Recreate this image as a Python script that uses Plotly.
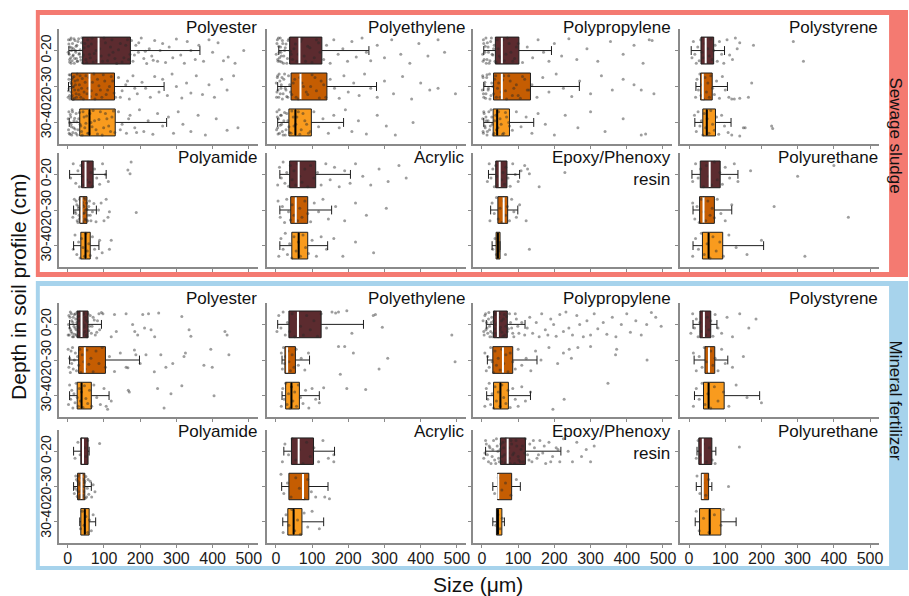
import plotly.graph_objects as go

# ---------------- data ----------------
DEPTHS = ["0-20", "20-30", "30-40"]
POLYMERS = ["Polyester", "Polyethylene", "Polypropylene", "Polystyrene",
            "Polyamide", "Acrylic", "Epoxy/Phenoxy<br>resin", "Polyurethane"]
GROUPS = ["Sewage sludge", "Mineral fertilizer"]
X_TICKS = [0, 100, 200, 300, 400, 500]

# box statistics, [polymer][depth]  (size in µm)
SS_LOWER = [[3, 2, 4], [8, 5, 5], [5, 5, 5], [6, 19, 16], [5, 16, 16], [11, 11, 11], [18, 24, 28], [8, 11, 11]]
SS_Q1 = [[41, 10, 33], [38, 42, 36], [37, 32, 31], [33, 32, 38], [38, 33, 36], [38, 41, 44], [38, 44, 39], [31, 29, 37]]
SS_MED = [[85, 60, 60], [65, 68, 54], [55, 55, 42], [46, 38, 49], [49, 38, 49], [63, 55, 63], [49, 60, 44], [57, 40, 54]]
SS_Q3 = [[173, 129, 131], [127, 141, 98], [102, 134, 76], [68, 64, 73], [70, 53, 62], [110, 88, 88], [69, 71, 50], [86, 70, 93]]
SS_UPPER = [[365, 266, 273], [257, 278, 187], [192, 269, 143], [98, 106, 116], [106, 79, 86], [206, 154, 143], [104, 99, 50], [135, 118, 206]]

MF_LOWER = [[5, 5, 5], [5, 17, 17], [12, 15, 13], [11, 14, 15], [16, 16, 33], [22, 16, 19], [10, 30, 30], [22, 20, 17]]
MF_Q1 = [[26, 30, 26], [36, 25, 27], [32, 30, 32], [30, 44, 40], [36, 27, 36], [43, 36, 33], [51, 43, 40], [27, 34, 29]]
MF_MED = [[38, 47, 38], [61, 31, 43], [44, 58, 51], [41, 55, 54], [42, 38, 47], [63, 75, 49], [71, 45, 44], [38, 38, 57]]
MF_Q3 = [[56, 104, 65], [125, 54, 65], [70, 85, 73], [60, 71, 97], [56, 47, 59], [104, 91, 72], [120, 82, 55], [63, 54, 88]]
MF_UPPER = [[93, 198, 114], [242, 93, 120], [119, 152, 134], [77, 107, 195], [59, 65, 77], [162, 144, 132], [218, 106, 62], [74, 63, 130]]

# individual particles: (size, vertical offset within the depth band)
SS_PTS_POLYESTER = [
    [(2,-.3),(4,.1),(5,.32),(6,-.1),(8,.2),(9,-.35),(10,0),(12,.28),(13,-.2),(15,.12),(16,-.05),(18,.35),(20,-.28),(22,.05),(24,.22),(25,-.15),(27,.3),(30,-.33),(32,.08),(35,.18),(38,-.22),(40,.34),(45,-.08),(50,.25),(55,-.3),(60,.1),(65,-.18),(70,.32),(78,0),(85,-.25),(92,.15),(100,-.35),(110,.28),(118,-.1),(125,.05),(135,.36),(145,-.2),(155,.2),(165,-.3),(172,.1),
     (1,.05),(3,-.18),(5,.25),(7,-.3),(9,.35),(11,-.08),(14,.15),(17,-.33),(19,.22),(21,0),(23,-.12),(26,.3),(28,-.25),(31,.1),(34,-.02),(36,.26),(39,-.36),(43,.12),(47,-.2),(52,.33),(57,-.12),(62,.2),(67,-.34),(73,.08),(80,.28),(88,-.05),(96,.3),(104,-.22),(114,.12),(122,-.3),(130,.22),(140,-.02),(150,.32),(160,-.15),(168,.25),(176,-.28),(184,.12),(196,-.22),(214,.02),(236,.27),
     (180,.3),(188,-.15),(195,.05),(203,-.35),(210,.22),(218,.36),(225,-.05),(232,.15),(240,-.28),(248,.3),(255,0),(262,-.2),(270,.33),(280,-.1),(290,.2),(300,-.32),(312,.12),(322,.35),(330,-.25),(340,0),(352,.25),(362,-.15),
     (375,.3),(390,-.3),(400,.05),(415,-.22),(430,.28),(443,.18),(462,.35),(486,0)],
    [(1,.3),(3,-.2),(4,.05),(6,.35),(7,-.32),(9,.15),(10,-.08),(12,.25),(14,-.25),(16,0),(18,.33),(20,-.15),(23,.2),(26,-.35),(29,.1),(32,-.05),(36,.3),(40,-.22),(45,.15),(50,-.3),(56,.05),(62,.28),(68,-.12),(75,.35),(82,-.2),(90,.1),(98,-.33),(106,.22),(115,0),(124,-.15),(132,.3),
     (2,.12),(4,-.33),(5,.25),(8,-.12),(10,.3),(11,-.2),(13,.02),(15,.36),(17,-.28),(19,.1),(21,-.05),(24,.3),(27,-.18),(31,.22),(34,-.3),(38,.05),(43,.35),(48,-.12),(53,.2),(59,-.25),(65,.12),(72,-.35),(79,.22),(86,-.02),(94,.3),(102,-.15),(110,.1),(120,-.28),(128,.18),(145,.3),(165,-.15),(185,.05),
     (140,-.25),(150,.12),(160,-.05),(170,.35),(180,-.3),(192,.2),(205,-.12),(215,.05),(228,.3),(240,-.28),(252,.15),(262,-.2),(275,.25),(288,-.35),(300,0),(315,.32),(328,-.1),(340,.18),
     (355,-.3),(372,.22),(390,-.05),(405,.3),(425,-.2),(440,.1),(458,-.3)],
    [(2,.2),(3,-.3),(5,0),(6,.33),(8,-.15),(10,.12),(12,-.35),(14,.28),(17,-.05),(20,.18),(23,-.25),(26,.35),(30,-.1),(34,.05),(38,.25),(42,-.3),(47,.15),(52,-.18),(58,.3),(64,0),(70,-.33),(78,.2),(86,-.08),(95,.35),(104,-.25),(113,.1),(122,-.15),(130,.28),
     (1,-.1),(4,.3),(7,-.22),(9,.05),(11,.35),(13,-.3),(16,.15),(19,-.12),(22,.3),(25,-.02),(28,.2),(32,-.28),(36,.1),(40,.35),(45,-.15),(50,.02),(55,.3),(61,-.25),(67,.12),(74,-.05),(82,.32),(90,-.3),(99,.15),(108,-.1),(118,.25),(126,-.32),(145,.2),(168,-.1),(190,.28),
     (140,-.3),(150,.05),(162,.3),(172,-.2),(185,.15),(198,-.35),(210,.25),(222,-.05),(235,.33),(248,-.25),(262,.1),(278,-.15),(292,.3),(305,-.3),(318,.05),
     (340,.25),(360,-.2),(380,.35),(410,-.1),(440,.22),(470,.15)],
]
SS_PTS_POLYETHYLENE = [
    [(3,-.2),(5,.25),(7,-.35),(9,.05),(11,.3),(13,-.1),(15,.15),(18,-.28),(21,.35),(24,0),(28,-.18),(32,.22),(36,-.32),(42,.1),(50,-.05),(58,.3),(68,-.25),(78,.15),(88,-.12),(100,.33),(112,-.3),(122,.05),
     (1,.1),(4,-.3),(6,.3),(8,-.12),(10,.2),(12,-.35),(14,.05),(16,.32),(19,-.2),(22,.15),(26,-.08),(30,.35),(34,-.28),(40,.02),(46,.25),(54,-.18),(62,.1),(72,-.32),(82,.3),(94,-.08),(106,.2),(118,-.22),
     (132,.25),(140,-.15),(150,.35),(160,-.3),(172,.1),(185,-.05),(198,.3),(210,-.25),(222,.18),(238,-.35),(250,.05),(262,.28),(280,-.15),(300,.2),(320,-.3),(345,.1),(370,.35),(395,-.2),(420,.15),(448,-.3),(466,.05)],
    [(2,.3),(4,-.25),(6,.1),(9,-.35),(12,.2),(15,-.05),(18,.35),(22,-.2),(26,.05),(30,.28),(35,-.3),(40,.15),(48,-.1),(56,.3),(66,-.25),(76,0),(88,.22),(100,-.33),(112,.12),(125,-.15),(138,.3),
     (1,-.1),(3,.15),(5,-.3),(8,.3),(11,-.15),(14,.05),(17,-.25),(20,.2),(24,-.35),(28,.1),(33,.3),(38,-.05),(44,.22),(52,-.2),(62,.35),(72,-.1),(84,.15),(96,0),(108,-.25),(120,.32),(132,-.05),
     (150,-.2),(162,.05),(175,.33),(188,-.3),(200,.15),(215,-.1),(230,.25),(245,-.35),(262,.05),(280,.3),(300,-.15),(325,.2),(350,-.28),(375,.35),(400,-.1),(425,.1),(448,.05),(496,.2)],
    [(3,-.3),(5,.15),(7,-.1),(10,.3),(13,-.2),(16,.05),(20,.35),(24,-.28),(28,.2),(33,-.05),(38,.28),(44,-.32),(50,.1),(58,-.15),(66,.33),(75,-.25),(85,.05),(95,.25),(105,-.3),(118,.12),(130,-.1),(145,.3),(160,-.2),(175,.15),(192,-.35),(210,.25),(228,-.05),(250,.32),(280,-.2),(305,.1),(330,.35),(379,0),
     (2,.2),(4,-.15),(6,.32),(9,-.35),(12,.08),(15,-.2),(18,.25),(22,-.05),(26,.35),(30,-.25),(36,.12),(42,.3),(48,-.15),(55,.05),(62,-.3),(70,.2),(80,-.05),(90,.3)],
]
SS_PTS_POLYPROPYLENE = [
    [(3,.3),(5,-.2),(8,.05),(11,-.35),(14,.25),(17,-.1),(20,.35),(24,-.25),(28,.1),(32,-.05),(36,.3),(42,-.3),(48,.15),(55,-.15),(62,.28),(70,-.35),(80,.05),(90,.22),(100,-.2),(112,.33),(125,-.1),(140,.2),(155,-.3),(170,.05),(185,.3),(200,-.2),(220,.15),(240,-.33),(262,.25),(290,-.05),(320,.3),(355,-.25),(390,.1),(420,-.15),(445,.35),(462,-.3),(470,-.28),
     (2,.1),(4,-.3),(6,.25),(9,-.12),(12,.35),(15,-.22),(18,.05),(22,.28),(26,-.35),(30,.12),(34,-.15),(39,.33),(45,-.05),(52,.2),(58,-.3),(66,.1),(75,-.2),(85,.3),(95,-.1)],
    [(2,-.3),(4,.2),(7,-.05),(10,.33),(13,-.25),(17,.1),(21,-.35),(25,.25),(30,0),(35,-.2),(40,.3),(46,-.1),(53,.15),(60,-.3),(68,.35),(78,-.15),(88,.05),(100,.25),(112,-.28),(125,.1),(138,-.05),(152,.3),(168,-.25),(185,.15),(205,-.35),(225,.05),(248,.28),(270,-.15),(300,.2),(330,-.3),(360,.1),(390,-.2),(420,-.05),(440,.1),(475,.2),
     (1,.1),(3,-.25),(5,.3),(8,-.12),(11,.2),(14,-.33),(18,.05),(22,.35),(27,-.1),(32,.2),(38,-.3),(43,.05),(50,.3),(57,-.18),(65,.12),(74,-.3),(84,.25),(95,-.05),(106,.33),(118,-.2),(130,.1)],
    [(3,.25),(5,-.3),(8,.1),(11,-.15),(14,.35),(17,-.05),(21,.2),(25,-.35),(29,.05),(33,.3),(38,-.2),(44,.15),(50,-.1),(57,.33),(65,-.28),(74,0),(84,.22),(95,-.3),(108,.12),(122,-.15),(138,.3),(155,-.25),(175,.05),(200,.35),(230,-.2),(265,.15),(300,-.3),(340,.25),(390,-.1),(440,.35),(452,.32),
     (2,-.1),(4,.3),(6,-.25),(9,.15),(12,-.05),(15,.25),(19,-.3),(23,.1),(27,-.15),(31,.35),(35,-.05),(40,.2),(46,-.3),(53,.05),(60,.3),(68,-.15),(76,.1)],
]
SS_PTS_POLYSTYRENE = [
    [(8,.2),(12,-.25),(16,.1),(20,.35),(24,-.1),(28,.28),(32,-.3),(36,.05),(40,.2),(44,-.2),(48,.33),(52,-.05),(56,.15),(60,-.32),(64,.25),(68,0),(72,-.15),(78,.3),(84,-.25),(90,.1),(96,.35),(105,-.3),(112,.12),(120,.25),(128,-.35),(133,-.05),(140,-.22),(178,-.15),(288,-.25),(316,.3)],
    [(18,.3),(22,-.2),(26,.1),(30,-.35),(33,.25),(36,-.05),(40,.35),(44,-.25),(48,.15),(52,-.1),(56,.3),(60,-.3),(65,.05),(70,.22),(76,-.15),(84,.33),(92,-.28),(100,.1),(110,.3),(118,.35),(125,.35),(140,.33),(164,.3),(173,-.1)],
    [(15,-.2),(20,.25),(25,-.3),(30,.1),(34,-.05),(38,.35),(42,-.25),(46,.15),(50,-.1),(55,.3),(60,-.33),(65,.05),(70,.22),(76,-.15),(82,.33),(90,-.2),(98,.1),(108,.28),(118,.35),(140,.38),(150,.15),(155,.15),(228,.1),(231,.17)],
]
SS_PTS_POLYAMIDE = [
    [(8,.1),(15,-.3),(22,.25),(28,-.1),(32,.35),(36,-.25),(40,.05),(44,.3),(48,-.2),(52,.15),(56,-.35),(60,.22),(64,-.05),(68,.33),(74,-.15),(80,.1),(88,.28),(96,-.3),(104,0),(112,.2),(166,-.12),(172,-.02),(175,-.35),(367,-.33)],
    [(14,.2),(18,-.3),(22,.1),(25,-.15),(28,.35),(30,-.05),(32,.25),(34,-.35),(36,0),(38,.18),(40,-.22),(42,.32),(44,-.1),(46,.08),(48,-.3),(50,.28),(53,-.02),(56,.15),(60,-.25),(64,.3),(68,.05),(72,-.18),(78,.33),(85,0),(92,-.2),(100,.3),(106,-.3),(111,.2),(115,.05),(189,.07),
     (20,.05),(23,-.25),(26,.3),(29,-.1),(31,.15),(33,-.3),(35,.2),(37,-.05),(39,.35),(41,-.15),(43,.1),(45,-.35),(47,.25),(49,0),(52,-.2),(55,.3),(58,-.1),(62,.15)],
    [(15,.1),(20,-.3),(25,.25),(30,-.1),(34,.35),(38,-.2),(42,.05),(46,.3),(50,-.35),(54,.15),(58,-.05),(62,.28),(68,-.25),(74,.1),(80,.35),(88,-.15),(95,.2),(115,.1),(120,-.15)],
]
SS_PTS_ACRYLIC = [
    [(5,.3),(10,-.2),(15,.1),(20,-.35),(25,.25),(30,-.05),(35,.33),(40,-.25),(45,.15),(50,-.1),(55,.3),(60,-.3),(66,.05),(72,.22),(80,-.15),(88,.35),(96,-.25),(105,.1),(115,-.05),(125,.3),(138,-.3),(150,.15),(162,-.2),(175,.35),(190,-.1),(205,.25),(220,-.3),(240,.05),(262,.3),(285,-.15),(310,.2),(340,-.25),(360,.1)],
    [(6,-.25),(12,.2),(18,-.1),(24,.35),(30,-.3),(35,.05),(40,.28),(45,-.15),(50,.15),(55,-.35),(60,.3),(66,-.05),(72,.2),(80,-.25),(88,.1),(96,.33),(106,-.2),(118,.05),(130,-.3),(145,.25),(165,-.1),(190,.3),(220,-.2),(250,.15),(305,-.05)],
    [(8,.3),(14,-.2),(20,.1),(26,-.35),(32,.25),(38,-.05),(44,.35),(50,-.25),(56,.15),(62,-.1),(68,.3),(75,-.3),(82,.05),(90,.22),(100,-.15),(112,.3),(125,-.25),(140,.1),(160,-.2),(185,.3),(220,-.1),(270,.2)],
]
SS_PTS_EPOXY = [
    [(15,.2),(20,-.3),(25,.1),(30,-.15),(34,.35),(38,-.25),(42,.05),(46,.3),(50,-.35),(54,.15),(58,-.05),(62,.28),(66,-.2),(72,.1),(78,.33),(85,-.3),(92,0),(100,.2),(108,-.1),(118,-.25),(126,-.15),(131,-.02),(158,.35),(229,-.05)],
    [(22,.3),(28,-.2),(34,.1),(40,-.35),(45,.25),(50,-.05),(55,.35),(60,-.25),(65,.15),(70,-.1),(76,.3),(82,-.3),(88,.05),(95,.2),(104,-.15),(122,.3)],
    [(30,.1),(36,-.2),(40,.25),(44,-.1),(47,.15),(65,.25),(131,.1)],
]
SS_PTS_POLYURETHANE = [
    [(10,.2),(18,-.3),(25,.1),(32,-.15),(40,.35),(48,-.25),(55,.05),(62,.3),(70,-.35),(78,.15),(85,-.05),(92,.28),(100,-.2),(112,.1),(125,-.3),(135,.2),(170,-.1),(300,.05),(400,-.25)],
    [(10,-.2),(16,.25),(22,-.1),(28,.35),(34,-.3),(40,.05),(46,.3),(52,-.25),(58,.15),(64,-.05),(70,.22),(78,-.3),(88,.1),(100,.3),(118,-.15),(235,-.1),(440,.2)],
    [(10,.3),(18,-.2),(26,.1),(34,-.35),(42,.25),(50,-.05),(58,.35),(66,-.25),(75,.15),(85,-.1),(95,.3),(110,-.3),(130,.05),(160,.25),(200,-.15),(320,.3)],
]

MF_PTS_POLYESTER = [
    [(1,.3),(3,-.25),(5,.1),(7,-.35),(9,.2),(11,-.1),(13,.35),(15,-.2),(17,.05),(19,.28),(21,-.3),(23,.15),(25,-.05),(27,.33),(29,-.22),(31,.1),(33,-.35),(35,.25),(37,0),(39,-.15),(41,.3),(43,-.28),(45,.08),(47,.2),(50,-.12),(53,.35),(56,-.3),(60,.05),(65,.25),(70,-.2),(76,.3),(82,-.1),(88,.15),(93,-.33),
     (2,0),(4,.3),(6,-.2),(8,.15),(10,-.3),(12,.25),(14,-.05),(16,.35),(18,-.28),(20,.1),(22,-.15),(24,.3),(26,-.35),(28,.05),(30,.2),(32,-.1),(34,.33),(36,-.25),(38,.15),(40,-.05),(42,.25),(44,-.32),(46,.02),(48,-.2),(51,.3),(54,-.08),(58,.18),(62,-.25),(67,.05),(73,-.12),(80,.22),(86,-.3),
     (97,-.3),(120,.35),(129,-.28),(134,.2),(161,-.3),(179,0),(185,.2),(193,.3),(207,-.28),(212,.1),(223,-.3),(230,.15),(240,.35),(251,-.32),(315,-.22),(335,.15),(340,.33),(434,.2),(440,.3)],
    [(1,-.3),(3,.2),(5,-.05),(7,.35),(9,-.25),(11,.1),(13,-.35),(15,.25),(18,0),(21,-.2),(24,.3),(27,-.1),(30,.15),(33,-.3),(36,.35),(40,-.15),(44,.05),(48,.25),(53,-.28),(58,.12),(64,-.05),(70,.33),(78,-.25),(86,.1),(95,-.35),(104,.2),(115,-.1),(129,.32),(145,-.2),(161,.2),(166,.22),(184,-.28),(188,-.15),(200,.1),(216,-.15),(239,.33),(257,-.15),(271,.2),(290,.1),(321,-.1),(325,-.2),(376,.15),(395,-.3),(399,.2),(445,-.15)],
    [(2,.25),(5,-.3),(8,.1),(11,-.15),(14,.35),(17,-.05),(20,.2),(23,-.35),(26,.05),(29,.3),(32,-.2),(35,.15),(38,-.1),(42,.33),(46,-.28),(50,.08),(55,.22),(60,-.15),(66,.3),(72,-.3),(80,.05),(90,.25),(100,-.2),(106,.3),(110,.38),(120,.15),(167,-.15),(170,-.1),(248,-.2),(266,.35),(285,-.05),(315,-.28),(404,0)],
]
MF_PTS_POLYETHYLENE = [
    [(3,.2),(8,-.25),(14,.1),(20,-.35),(26,.3),(32,-.05),(38,.2),(45,-.3),(52,.35),(60,-.15),(68,.05),(76,.3),(85,-.25),(95,.15),(105,-.1),(115,.33),(125,-.3),(140,.1),(155,-.35),(165,-.32),(173,-.35),(196,-.38),(210,.25),(269,-.25),(275,-.28),(294,.08),(486,.3)],
    [(15,-.2),(18,.25),(21,-.35),(24,.1),(27,-.1),(30,.35),(33,-.25),(36,.05),(40,.3),(45,-.15),(50,.2),(56,-.3),(62,.15),(70,-.05),(80,.28),(90,-.2),(173,-.38),(190,-.38),(214,-.2),(285,.25),(178,.4),(309,-.05),(495,.05)],
    [(15,.3),(19,-.2),(23,.1),(27,-.35),(31,.25),(35,-.05),(39,.35),(43,-.25),(47,.15),(52,-.1),(57,.3),(62,-.3),(68,.05),(75,.22),(82,-.15),(91,.35),(100,-.2),(110,.1),(120,.2),(132,-.22),(196,-.2),(248,-.17)],
]
MF_PTS_POLYPROPYLENE = [
    [(5,.2),(10,-.3),(14,.1),(18,-.15),(22,.35),(26,-.05),(30,.25),(34,-.35),(38,0),(42,.3),(46,-.2),(50,.15),(54,-.1),(58,.33),(62,-.28),(66,.05),(70,.2),(76,-.3),(82,.1),(88,.35),(95,-.15),(102,.25),(110,-.05),(118,.3),
     (3,-.1),(6,.3),(8,-.25),(11,.15),(13,-.05),(16,.25),(19,-.33),(21,.05),(24,.2),(27,-.2),(29,.35),(32,-.1),(35,.12),(37,-.28),(40,.25),(43,-.05),(45,.35),(48,-.3),(51,.08),(55,.22),(59,-.15),(63,.3),(68,-.22),(73,.12),(79,-.05),(85,.25),(92,-.3),(99,.05),
     (125,.1),(132,-.2),(140,.25),(150,-.05),(158,.35),(165,-.3),(175,.15),(182,.3),(190,-.15),(198,0),(205,.33),(215,-.28),(225,.2),(232,-.35),(240,.1),(250,.3),(262,-.25),(270,0),(280,.35),(290,-.1),(300,.3),(310,-.3),(320,.12),(335,-.05),(345,.28),(360,-.2),(370,.35),(385,0),(400,-.3),(410,.22),(425,-.1),(440,.3),(455,0),(468,-.33),(480,-.2),(495,.05)],
    [(8,-.2),(12,.3),(16,-.1),(20,.2),(24,-.35),(28,.05),(32,.35),(36,-.25),(40,.15),(45,-.05),(50,.28),(55,-.3),(60,.1),(66,-.15),(72,.33),(78,-.2),(85,.05),(92,.25),(100,-.3),(110,.15),(122,-.05),(135,.3),(148,-.25),(163,0),(185,-.35),(209,.1),(225,-.2),(241,-.3),(247,-.05),(265,-.35),(300,-.38),(369,-.15),(372,-.3),(456,0)],
    [(8,.3),(12,-.2),(16,.1),(20,-.35),(24,.25),(28,-.05),(32,.35),(36,-.25),(40,.15),(45,-.1),(50,.3),(55,-.3),(60,.05),(66,.22),(72,-.15),(78,.33),(85,-.2),(92,.1),(100,.3),(110,-.25),(120,.15),(134,-.1),(196,.38),(227,.1),(348,-.35)],
]
MF_PTS_POLYSTYRENE = [
    [(5,.25),(10,-.3),(15,.1),(20,-.15),(25,.35),(30,-.05),(34,.2),(38,-.35),(42,.05),(46,.3),(50,-.2),(55,.15),(60,-.1),(66,.33),(72,-.28),(80,.1),(90,.25),(105,-.2),(120,.35),(140,-.3),(165,.1),(185,-.15)],
    [(12,-.2),(20,.3),(28,-.1),(36,.2),(42,-.35),(48,.05),(54,.35),(60,-.25),(66,.15),(72,-.05),(80,.3),(90,-.3),(100,.1),(120,.2),(150,-.1)],
    [(12,.3),(20,-.2),(28,.1),(36,-.35),(44,.25),(52,-.05),(60,.35),(70,-.25),(80,.15),(95,-.1),(110,.3),(130,-.3),(160,.05),(200,.2)],
]
MF_PTS_POLYAMIDE = [
    [(20,.2),(28,-.25),(34,.1),(38,-.35),(42,.3),(46,-.1),(50,.15),(55,-.3),(88,-.22)],
    [(18,.2),(22,-.3),(25,.1),(28,-.15),(30,.35),(32,-.05),(34,.25),(36,-.35),(38,0),(40,.3),(42,-.2),(44,.15),(46,-.1),(48,.33),(50,-.28),(54,.05),(58,.22),(62,-.15),(66,.3),(70,-.05),(75,.15),
     (20,.05),(24,-.2),(26,.28),(29,-.3),(31,.15),(33,-.1),(35,.3),(37,-.25),(39,.1),(41,-.35),(43,.25),(45,0),(47,-.15),(52,.3),(56,-.2)],
    [(35,.2),(40,-.3),(45,.1),(50,-.15),(55,.3),(60,-.05),(65,.25),(70,-.2)],
]
MF_PTS_ACRYLIC = [
    [(18,.3),(25,-.2),(35,.1),(45,-.35),(55,.25),(65,-.05),(75,.35),(85,-.25),(95,.15),(105,-.1),(118,.3),(130,-.3),(145,.2),(160,.1),(160,.3)],
    [(14,-.35),(22,.2),(32,-.1),(42,.3),(55,-.25),(65,.05),(78,.35),(88,-.2),(98,.15),(110,.3),(135,.3),(148,.35)],
    [(20,.3),(28,-.2),(36,.1),(44,-.35),(52,.25),(60,-.05),(68,.35),(78,-.25),(88,.15),(100,-.3),(120,.2)],
]
MF_PTS_EPOXY = [
    [(5,.2),(10,-.3),(15,.1),(20,-.15),(25,.35),(30,-.05),(35,.25),(40,-.35),(44,0),(48,.3),(52,-.2),(56,.15),(60,-.1),(64,.33),(68,-.28),(72,.05),(76,.2),(80,-.3),(85,.1),(90,.35),(96,-.15),(102,.25),(108,-.05),(114,.3),(120,-.35),(126,.1),(132,-.2),(138,.3),(145,-.1),(152,.2),(160,-.3),(168,.05),(176,.35),(185,-.25),(195,.15),(205,-.1),(215,.3),(225,-.35),(238,0),(250,.3),(262,-.25),(275,.15),(288,-.05),(300,.3),(310,-.15),
     (8,.05),(12,-.2),(18,.3),(22,-.1),(28,.15),(32,-.3),(38,.35),(42,-.15),(46,.2),(50,-.05),(54,.3),(58,-.25),(62,.1),(66,-.35),(70,.25),(74,-.1),(78,.35),(82,-.2),(88,.05),(94,-.3),(100,.15),(106,.3),(112,-.15),(118,.05),(130,.25),(142,-.3),(156,.1),(172,-.15),(190,.3),(210,-.05)],
    [(35,.2),(45,-.25),(55,.1),(65,-.1),(80,.25),(95,-.2)],
    [(38,.1),(44,-.2),(50,.2),(56,-.1)],
]
MF_PTS_POLYURETHANE = [
    [(20,.2),(25,-.3),(32,.1),(40,-.2),(48,.3),(56,-.1),(64,.25),(72,.35),(139,-.12)],
    [(22,-.3),(30,.2),(38,-.1),(46,.25),(54,-.2),(109,0)],
    [(20,-.3),(28,.25),(40,-.1),(55,.3),(70,-.2),(88,.1),(95,-.35)],
]

SS_POINTS = [SS_PTS_POLYESTER, SS_PTS_POLYETHYLENE, SS_PTS_POLYPROPYLENE, SS_PTS_POLYSTYRENE,
             SS_PTS_POLYAMIDE, SS_PTS_ACRYLIC, SS_PTS_EPOXY, SS_PTS_POLYURETHANE]
MF_POINTS = [MF_PTS_POLYESTER, MF_PTS_POLYETHYLENE, MF_PTS_POLYPROPYLENE, MF_PTS_POLYSTYRENE,
             MF_PTS_POLYAMIDE, MF_PTS_ACRYLIC, MF_PTS_EPOXY, MF_PTS_POLYURETHANE]

# ---------------- style / layout ----------------
W, H = 909, 596
DEPTH_COLORS = ["#5C2B2F", "#C55D02", "#F99B1E"]
MEDIAN_COLORS = ["white", "white", "black"]
BOX_W = 0.75
FONT = "Liberation Sans, Arial, sans-serif"
AXIS_COL = "#8a8a8a"
COL_LEFT = [59, 268, 475, 683]
COL_WIDTH = 200
ROW_TOP = [29, 153, 303, 430]
ROW_BOTTOM = [144, 267, 417, 543]
TITLE_OFFSET = [-2, 4, -5, 1]
RED = "#F47A71"
BLUE = "#A7D3EC"


def px_x(v):
    return v / W


def px_y(v):
    return 1 - v / H


stats = {
    0: (SS_LOWER, SS_Q1, SS_MED, SS_Q3, SS_UPPER, SS_POINTS),
    1: (MF_LOWER, MF_Q1, MF_MED, MF_Q3, MF_UPPER, MF_POINTS),
}

fig = go.Figure()
layout_axes = {}
annotations = []

for g in range(2):
    lo, q1, med, q3, up, pts = stats[g]
    for p in range(8):
        row = g * 2 + p // 4
        col = p % 4
        k = g * 8 + p + 1
        xa = "x" if k == 1 else f"x{k}"
        ya = "y" if k == 1 else f"y{k}"
        for d in range(3):
            fig.add_trace(go.Box(
                y=[d], q1=[q1[p][d]], median=[med[p][d]], q3=[q3[p][d]],
                lowerfence=[lo[p][d]], upperfence=[up[p][d]],
                orientation="h", width=BOX_W, whiskerwidth=0.33,
                fillcolor=DEPTH_COLORS[d], line=dict(color="#1e1e1e", width=1),
                boxpoints=False, xaxis=xa, yaxis=ya, showlegend=False, hoverinfo="skip"))
            px_ = [pt[0] for pt in pts[p][d]]
            py_ = [d + pt[1] for pt in pts[p][d]]
            fig.add_trace(go.Scatter(
                x=px_, y=py_, mode="markers",
                marker=dict(size=3, color="rgba(40,40,40,0.45)", line=dict(width=0)),
                xaxis=xa, yaxis=ya, showlegend=False, hoverinfo="skip"))
            fig.add_trace(go.Scatter(
                x=[med[p][d], med[p][d]], y=[d - BOX_W / 2 + 0.02, d + BOX_W / 2 - 0.02],
                mode="lines", line=dict(color=MEDIAN_COLORS[d], width=2),
                xaxis=xa, yaxis=ya, showlegend=False, hoverinfo="skip"))

        left = COL_LEFT[col]
        right = left + COL_WIDTH
        key_x = "xaxis" if k == 1 else f"xaxis{k}"
        key_y = "yaxis" if k == 1 else f"yaxis{k}"
        layout_axes[key_x] = dict(
            domain=[px_x(left), px_x(right)], anchor=ya, range=[-25, 525],
            tickvals=X_TICKS, showticklabels=(row == 3), ticklabelstandoff=-3,
            tickfont=dict(size=16, color="#1a1a1a", family=FONT),
            ticks="outside", ticklen=3, tickcolor=AXIS_COL, tickwidth=1,
            showline=True, linecolor=AXIS_COL, linewidth=1.5,
            showgrid=False, zeroline=False, fixedrange=True)
        layout_axes[key_y] = dict(
            domain=[px_y(ROW_BOTTOM[row]), px_y(ROW_TOP[row])], anchor=xa,
            range=[2.6, -0.6], tickvals=[0, 1, 2], ticktext=DEPTHS,
            showticklabels=(col == 0), tickangle=-90, ticklabelstandoff=-3,
            tickfont=dict(size=14, color="#1a1a1a", family=FONT),
            ticks="outside", ticklen=3, tickcolor=AXIS_COL, tickwidth=1,
            showline=True, linecolor=AXIS_COL, linewidth=1.5,
            showgrid=False, zeroline=False, fixedrange=True)
        annotations.append(dict(
            text=POLYMERS[p], xref="paper", yref="paper",
            x=px_x(right + 1), y=px_y(ROW_TOP[row] + TITLE_OFFSET[row] - 11),
            xanchor="right", yanchor="top", align="right", showarrow=False,
            font=dict(size=17, color="#111", family=FONT)))

annotations += [
    dict(text="Size (μm)", xref="paper", yref="paper", x=px_x(480), y=px_y(584),
         xanchor="center", yanchor="middle", showarrow=False,
         font=dict(size=21, color="#111", family=FONT)),
    dict(text="Depth in soil profile (cm)", xref="paper", yref="paper", x=px_x(19), y=px_y(287),
         xanchor="center", yanchor="middle", textangle=-90, showarrow=False,
         font=dict(size=21, color="#111", family=FONT)),
    dict(text=GROUPS[0], xref="paper", yref="paper", x=px_x(899.5), y=px_y(135),
         xanchor="center", yanchor="middle", textangle=90, showarrow=False,
         font=dict(size=17, color="#111", family=FONT)),
    dict(text=GROUPS[1], xref="paper", yref="paper", x=px_x(899.5), y=px_y(400),
         xanchor="center", yanchor="middle", textangle=90, showarrow=False,
         font=dict(size=17, color="#111", family=FONT)),
]

shapes = [
    dict(type="rect", xref="paper", yref="paper", x0=px_x(36), x1=px_x(912), y0=px_y(277), y1=px_y(10),
         fillcolor=RED, line=dict(width=0), layer="below"),
    dict(type="rect", xref="paper", yref="paper", x0=px_x(40), x1=px_x(893), y0=px_y(272), y1=px_y(15),
         fillcolor="white", line=dict(width=0), layer="below"),
    dict(type="rect", xref="paper", yref="paper", x0=px_x(36), x1=px_x(912), y0=px_y(570), y1=px_y(281),
         fillcolor=BLUE, line=dict(width=0), layer="below"),
    dict(type="rect", xref="paper", yref="paper", x0=px_x(40), x1=px_x(893), y0=px_y(566), y1=px_y(286),
         fillcolor="white", line=dict(width=0), layer="below"),
]

fig.update_layout(
    width=W, height=H, autosize=False,
    margin=dict(l=0, r=0, t=0, b=0),
    paper_bgcolor="white", plot_bgcolor="rgba(0,0,0,0)",
    showlegend=False, boxmode="overlay",
    font=dict(family=FONT, color="#111"),
    annotations=annotations, shapes=shapes,
    **layout_axes)

fig.write_html("out.html", config={"displayModeBar": False},
               post_script="document.body.style.margin='0px';document.body.style.overflow='hidden';")
